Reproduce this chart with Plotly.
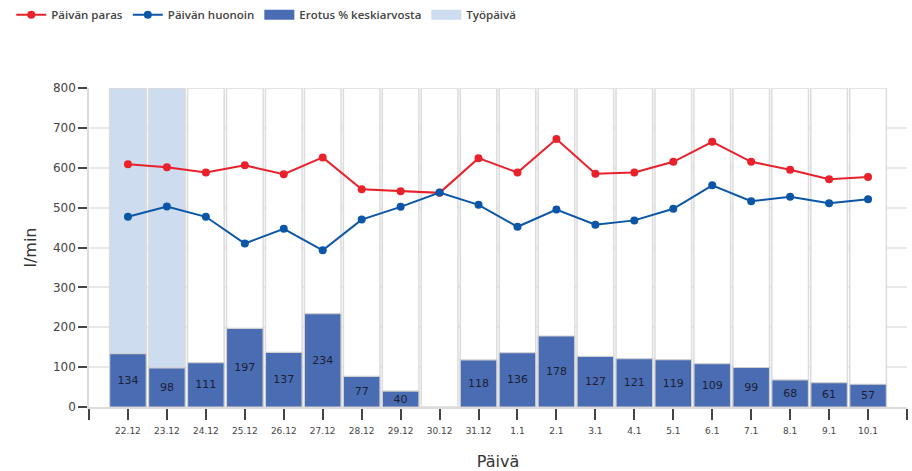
import plotly.graph_objects as go

# Daily peak-flow readings (l/min)
days = ["22.12", "23.12", "24.12", "25.12", "26.12", "27.12", "28.12", "29.12", "30.12", "31.12",
        "1.1", "2.1", "3.1", "4.1", "5.1", "6.1", "7.1", "8.1", "9.1", "10.1"]
best = [609, 601, 588, 606, 584, 626, 546, 541, 537, 624,
        588, 672, 585, 588, 615, 665, 615, 595, 571, 577]
worst = [477, 503, 477, 410, 447, 393, 470, 502, 538, 507,
         452, 495, 457, 468, 497, 556, 516, 527, 511, 521]
diff_pct = [134, 98, 111, 197, 137, 234, 77, 40, None, 118,
            136, 178, 127, 121, 119, 109, 99, 68, 61, 57]
workday = [True, True, False, False, False, False, False, False, False, False,
           False, False, False, False, False, False, False, False, False, False]
y_max = 800

RED = "#e8212b"
BLUE = "#0b56a6"
BAR_BLUE = "#4a6cb3"
WORK_BLUE = "#cddcee"

x = list(range(len(days)))
bar_w = 0.94

fig = go.Figure()

# full-height day columns: light blue on working days, white otherwise
fig.add_trace(go.Bar(
    x=x, y=[None if w else y_max for w in workday], width=bar_w,
    marker=dict(color="white", line=dict(color="#dcdcdc", width=1.5)),
    showlegend=False, hoverinfo="skip"))
fig.add_trace(go.Bar(
    x=x, y=[y_max if w else None for w in workday], width=bar_w, name="Työpäivä",
    marker=dict(color=WORK_BLUE, line=dict(color="#dcdcdc", width=1.5)),
    showlegend=False))

fig.add_trace(go.Bar(
    x=x, y=diff_pct, width=bar_w, name="Erotus % keskiarvosta",
    marker=dict(color=BAR_BLUE, line=dict(color="#d0d0d0", width=1.2)),
    text=[str(v) if v is not None else "" for v in diff_pct],
    textposition="inside", insidetextanchor="middle", constraintext="none",
    textfont=dict(color="#1b1f33", size=11, family="DejaVu Sans"),
    showlegend=False))

fig.add_trace(go.Scatter(
    x=x, y=best, name="Päivän paras", mode="lines+markers",
    line=dict(color=RED, width=2), marker=dict(size=8, color=RED),
    legendrank=1))
fig.add_trace(go.Scatter(
    x=x, y=worst, name="Päivän huonoin", mode="lines+markers",
    line=dict(color=BLUE, width=2), marker=dict(size=8, color=BLUE),
    legendrank=2))

# legend swatches for the bar series, drawn as wide blocks
fig.add_trace(go.Scatter(
    x=[None], y=[None], name="Erotus % keskiarvosta", mode="lines",
    line=dict(color=BAR_BLUE, width=13), legendrank=3))
fig.add_trace(go.Scatter(
    x=[None], y=[None], name="Työpäivä", mode="lines",
    line=dict(color=WORK_BLUE, width=13), legendrank=4))

tickvals = [-1] + x + [len(days)]
ticktext = [""] + days + [""]

fig.update_layout(
    width=912, height=471,
    margin=dict(l=89, r=5, t=88, b=64, autoexpand=False),
    barmode="overlay",
    plot_bgcolor="white", paper_bgcolor="white",
    font=dict(family="DejaVu Sans", color="#333"),
    legend=dict(orientation="h", x=-0.095, xanchor="left", y=1.275, yanchor="top",
                font=dict(size=11.5, color="#444", family="Open Sans", weight=600),
                itemwidth=30),
    xaxis=dict(range=[-1, len(days)], tickmode="array", tickvals=tickvals, ticktext=ticktext,
               ticks="outside", ticklen=11, tickcolor="#444", tickwidth=1.5,
               tickfont=dict(size=9, color="#444"), ticklabelstandoff=3,
               showgrid=False, showline=True, linecolor="#dcdcdc", linewidth=1.5,
               zeroline=False, automargin=False,
               title=dict(text="Päivä", font=dict(size=16, color="#333"), standoff=22)),
    yaxis=dict(range=[0, y_max], tickvals=list(range(0, y_max + 1, 100)),
               ticks="outside", ticklen=9, tickcolor="#444", tickwidth=1.5,
               tickfont=dict(size=12, color="#444"),
               showgrid=True, gridcolor="#e8e8e8", gridwidth=1.5,
               showline=True, linecolor="#dcdcdc", linewidth=1.5, zeroline=False,
               automargin=False,
               title=dict(text="l/min", font=dict(size=16, color="#333"), standoff=12)),
)

fig.write_html("out.html")
